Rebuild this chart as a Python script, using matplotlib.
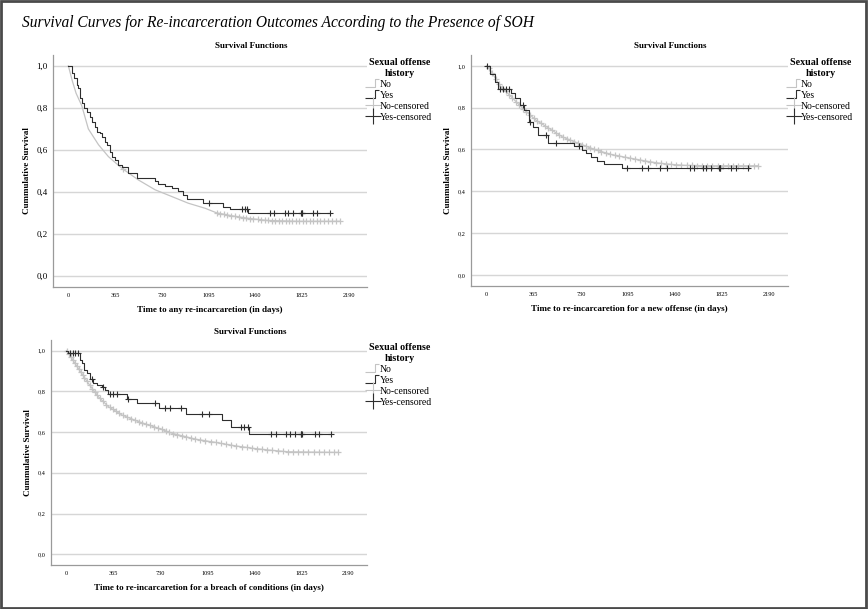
import numpy as np
import matplotlib
matplotlib.use('Agg')
import matplotlib.pyplot as plt
from matplotlib.lines import Line2D
from matplotlib.path import Path
from matplotlib.patches import Rectangle

plt.rcParams['font.family'] = ['Liberation Serif', 'DejaVu Serif']

# --- panel 1: any re-incarceration ---
no1_t = [0, 30, 60, 105, 156, 235, 313, 417, 547, 678, 808, 938, 1069, 1160, 1280, 1395, 1551, 1786, 2124]
no1_s = [1.0, 0.93, 0.87, 0.81, 0.70, 0.625, 0.568, 0.513, 0.457, 0.41, 0.378, 0.346, 0.322, 0.30, 0.286, 0.275, 0.264, 0.26, 0.26]
no1_ct = [430, 1160, 1185, 1215, 1240, 1275, 1300, 1330, 1365, 1390, 1420, 1445, 1480, 1505, 1535, 1560, 1590, 1615,
          1645, 1670, 1700, 1725, 1750, 1780, 1805, 1835, 1860, 1890, 1915, 1945, 1970, 2000, 2030, 2060, 2090, 2124]
yes1_t = [0, 26, 47, 65, 78, 91, 105, 125, 144, 170, 183, 209, 222, 248, 261, 287, 300, 326, 339, 365, 391, 417,
          469, 535, 678, 704, 756, 808, 860, 899, 925, 1056, 1212, 1264, 1408]
yes1_s = [1.0, 0.965, 0.941, 0.91, 0.894, 0.846, 0.822, 0.798, 0.782, 0.759, 0.735, 0.711, 0.687, 0.679, 0.663, 0.64,
          0.624, 0.592, 0.568, 0.552, 0.529, 0.52, 0.489, 0.465, 0.452, 0.44, 0.429, 0.418, 0.405, 0.386, 0.365,
          0.349, 0.33, 0.317, 0.301]
yes1_ct = [1103, 1356, 1382, 1398, 1577, 1611, 1694, 1720, 1759, 1820, 1825, 1830, 1916, 1942, 2046]

# --- panel 2: new offense ---
no2_t = [0, 25, 102, 205, 281, 384, 487, 589, 717, 846, 973, 1100, 1230, 1332, 1440, 1537, 1750, 2101]
no2_s = [1.0, 0.985, 0.907, 0.844, 0.796, 0.74, 0.70, 0.66, 0.628, 0.598, 0.575, 0.56, 0.545, 0.535, 0.528, 0.524, 0.522, 0.522]
no2_ct = [20, 45, 70, 95, 120, 150, 175, 200, 230, 255, 285, 310, 340, 365, 395, 420, 450, 480, 505, 535, 560, 590,
          620, 650, 680, 710, 740, 770, 800, 830, 860, 890, 925, 960, 995, 1030, 1070, 1110, 1150, 1190, 1230, 1270,
          1310, 1350, 1390, 1430, 1470, 1510, 1550, 1590, 1630, 1670, 1710, 1750, 1790, 1830, 1870, 1910, 1950,
          1990, 2030, 2070, 2101]
yes2_t = [0, 30, 64, 90, 192, 218, 256, 294, 328, 333, 359, 397, 474, 679, 743, 768, 807, 858, 909, 1050]
yes2_s = [1.0, 0.96, 0.923, 0.891, 0.868, 0.844, 0.812, 0.788, 0.756, 0.732, 0.708, 0.668, 0.633, 0.617, 0.596,
          0.585, 0.564, 0.543, 0.53, 0.512]
yes2_ct = [5, 102, 128, 153, 175, 282, 340, 461, 538, 717, 1088, 1204, 1250, 1345, 1396, 1576, 1609, 1678, 1703,
           1742, 1800, 1806, 1812, 1895, 1934, 2024]

# --- panel 3: breach of conditions ---
no3_t = [0, 13, 65, 117, 169, 247, 325, 430, 560, 690, 821, 1003, 1150, 1303, 1450, 1564, 1720, 2111]
no3_s = [1.0, 0.99, 0.938, 0.889, 0.84, 0.774, 0.725, 0.684, 0.651, 0.624, 0.594, 0.565, 0.55, 0.533, 0.52, 0.512, 0.503, 0.50]
no3_ct = [5, 20, 35, 50, 65, 80, 95, 110, 125, 140, 160, 180, 200, 220, 240, 260, 285, 310, 335, 360, 385, 410, 440,
          470, 500, 530, 560, 590, 620, 650, 680, 710, 740, 770, 800, 830, 860, 895, 930, 965, 1000, 1040, 1080,
          1120, 1160, 1200, 1240, 1280, 1320, 1360, 1400, 1440, 1480, 1520, 1560, 1600, 1640, 1680, 1720, 1760,
          1800, 1840, 1880, 1920, 1960, 2000, 2040, 2080, 2111]
yes3_t = [0, 10, 104, 117, 138, 156, 182, 208, 235, 274, 300, 326, 469, 547, 716, 925, 1212, 1277, 1421]
yes3_s = [1.0, 0.99, 0.954, 0.938, 0.905, 0.889, 0.86, 0.843, 0.832, 0.823, 0.807, 0.787, 0.761, 0.742, 0.717,
          0.69, 0.66, 0.627, 0.591]
yes3_ct = [26, 52, 70, 91, 196, 287, 339, 365, 391, 475, 690, 769, 808, 886, 1056, 1108, 1356, 1382, 1408, 1590,
           1629, 1707, 1733, 1772, 1820, 1825, 1830, 1929, 1960, 2059]

xticks = [0, 365, 730, 1095, 1460, 1825, 2190]
yticks = [0.0, 0.2, 0.4, 0.6, 0.8, 1.0]
ytick_labels = ['0,0', '0,2', '0,4', '0,6', '0,8', '1,0']

NO_COL = '#c4c4c4'
YES_COL = '#2e2e2e'

fig = plt.figure(figsize=(8.68, 6.09), dpi=100)
fig.patches.append(Rectangle((0.001, 0.002), 0.997, 0.996, transform=fig.transFigure,
                             fill=False, edgecolor='#4a4a4a', lw=2))
fig.text(0.025, 0.962, 'Survival Curves for Re-incarceration Outcomes According to the Presence of SOH',
         fontsize=11.2, style='italic', va='center', ha='left')

step_marker = Path([(-1.0, -0.45), (0.25, -0.45), (0.25, 0.45), (0.75, 0.45)])


def draw_panel(rect, no_t, no_s, no_ct, yes_t, yes_s, yes_ct, xlabel, ylab_size):
    ax = fig.add_axes(rect)
    no_t = np.array(no_t)
    no_s = np.array(no_s)
    yes_t = np.array(yes_t)
    yes_s = np.array(yes_s)
    yes_ct = np.array(yes_ct)

    for y in yticks:
        ax.axhline(y, color='#d6d6d6', lw=1.0, zorder=0)

    ax.plot(no_t, no_s, color=NO_COL, lw=0.9, zorder=2)
    ax.plot(no_ct, np.interp(no_ct, no_t, no_s), '+', color=NO_COL, ms=4, mew=0.9, zorder=2)

    # extend the last step to the last censored time
    xt = np.append(yes_t, max(yes_ct.max(), yes_t.max()))
    xs = np.append(yes_s, yes_s[-1])
    ax.step(xt, xs, where='post', color=YES_COL, lw=0.8, zorder=3)
    idx = np.searchsorted(yes_t, yes_ct, side='right') - 1
    ax.plot(yes_ct, yes_s[idx], '+', color=YES_COL, ms=4.5, mew=0.8, zorder=4)

    ax.set_xlim(-120, 2335)
    ax.set_ylim(-0.053, 1.052)
    ax.set_xticks(xticks)
    ax.set_xticklabels([str(v) for v in xticks], fontsize=4.5)
    ax.set_yticks(yticks)
    ax.set_yticklabels(ytick_labels, fontsize=ylab_size)
    ax.tick_params(length=0, pad=4)
    for s in ['top', 'right']:
        ax.spines[s].set_visible(False)
    for s in ['left', 'bottom']:
        ax.spines[s].set_color('#9a9a9a')
        ax.spines[s].set_linewidth(0.9)

    ax.set_xlabel(xlabel, fontsize=6.5, fontweight='bold', labelpad=6)
    ax.set_ylabel('Cummulative Survival', fontsize=6.5, fontweight='bold', labelpad=4)
    ax.text(0.63, 1.02, 'Survival Functions', transform=ax.transAxes, ha='center', va='bottom',
            fontsize=6.5, fontweight='bold')

    handles = [
        Line2D([], [], marker=step_marker, ls='None', ms=12, mfc='none', mec=NO_COL, mew=0.8),
        Line2D([], [], marker=step_marker, ls='None', ms=12, mfc='none', mec=YES_COL, mew=0.8),
        Line2D([], [], marker='+', ls='None', ms=12, mec=NO_COL, mew=0.8),
        Line2D([], [], marker='+', ls='None', ms=12, mec=YES_COL, mew=0.8),
    ]
    leg = ax.legend(handles, ['No', 'Yes', 'No-censored', 'Yes-censored'],
                    title='Sexual offense\nhistory', loc='upper left', bbox_to_anchor=(1.0, 0.985),
                    frameon=False, fontsize=7, title_fontsize=7.2, handlelength=1.2, handletextpad=0.1,
                    labelspacing=0.2, borderaxespad=0, borderpad=0, alignment='center')
    leg.get_title().set_fontweight('bold')
    leg.get_title().set_multialignment('center')
    return ax


draw_panel([0.0611, 0.5287, 0.3618, 0.381], no1_t, no1_s, no1_ct, yes1_t, yes1_s, yes1_ct,
           'Time to any re-incarcaretion (in days)', 6.5)
draw_panel([0.5426, 0.5304, 0.3652, 0.3793], no2_t, no2_s, no2_ct, yes2_t, yes2_s, yes2_ct,
           'Time to re-incarcaretion for a new offense (in days)', 4.5)
draw_panel([0.0588, 0.0722, 0.364, 0.3695], no3_t, no3_s, no3_ct, yes3_t, yes3_s, yes3_ct,
           'Time to re-incarcaretion for a breach of conditions (in days)', 4.5)

fig.savefig('out.png', dpi=100)
